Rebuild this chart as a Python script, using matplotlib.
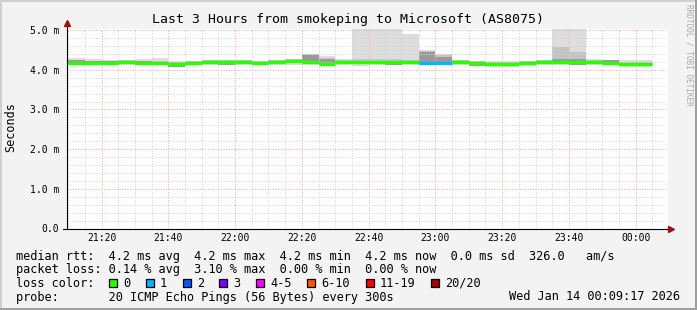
import matplotlib
matplotlib.use('Agg')
import matplotlib.pyplot as plt
import matplotlib.dates as mdates
from matplotlib.patches import Rectangle
from matplotlib.lines import Line2D
from matplotlib.ticker import FixedLocator, MultipleLocator, FixedFormatter
from datetime import datetime, timedelta

# ---------------- data ----------------
step_start = ['21:10', '21:15', '21:20', '21:25', '21:30', '21:35', '21:40', '21:45',
              '21:50', '21:55', '22:00', '22:05', '22:10', '22:15', '22:20', '22:25',
              '22:30', '22:35', '22:40', '22:45', '22:50', '22:55', '23:00', '23:05',
              '23:10', '23:15', '23:20', '23:25', '23:30', '23:35', '23:40', '23:45',
              '23:50', '23:55', '00:00']
step_end = '00:05'

median_ms = [4.18, 4.18, 4.18, 4.20, 4.18, 4.17, 4.15, 4.17, 4.20, 4.19, 4.20, 4.17,
             4.20, 4.21, 4.20, 4.15, 4.20, 4.19, 4.19, 4.19, 4.19, 4.18, 4.18, 4.19,
             4.17, 4.15, 4.15, 4.17, 4.19, 4.19, 4.19, 4.19, 4.17, 4.15, 4.15]
min_ms = [4.11, 4.12, 4.12, 4.13, 4.11, 4.12, 4.10, 4.11, 4.13, 4.12, 4.13, 4.11,
          4.13, 4.13, 4.13, 4.10, 4.13, 4.10, 4.11, 4.11, 4.12, 4.12, 4.12, 4.12,
          4.10, 4.06, 4.06, 4.10, 4.12, 4.11, 4.11, 4.12, 4.11, 4.08, 4.08]
max_ms = [4.29, 4.27, 4.24, 4.24, 4.27, 4.29, 4.22, 4.23, 4.24, 4.23, 4.23, 4.23,
          4.23, 4.24, 4.40, 4.35, 4.27, 5.60, 5.60, 5.60, 4.90, 4.50, 4.40, 4.24,
          4.22, 4.23, 4.22, 4.23, 4.24, 5.60, 5.60, 4.26, 4.24, 4.24, 4.24]
mid_lo_ms = [4.13, 4.13, 4.13, 4.15, 4.13, 4.12, 4.10, 4.12, 4.15, 4.14, 4.15, 4.12,
             4.15, 4.16, 4.15, 4.10, 4.15, 4.14, 4.14, 4.14, 4.14, 4.13, 4.13, 4.14,
             4.12, 4.10, 4.10, 4.12, 4.14, 4.14, 4.14, 4.14, 4.12, 4.10, 4.10]
mid_hi_ms = [4.23, 4.23, 4.23, 4.25, 4.23, 4.22, 4.20, 4.22, 4.25, 4.24, 4.25, 4.22,
             4.25, 4.26, 4.39, 4.29, 4.25, 4.27, 4.26, 4.26, 4.25, 4.48, 4.38, 4.24,
             4.22, 4.20, 4.20, 4.22, 4.24, 4.58, 4.44, 4.24, 4.22, 4.20, 4.20]
inner_lo_ms = [4.15, 4.15, 4.15, 4.17, 4.11, 4.14, 4.08, 4.14, 4.17, 4.12, 4.17, 4.14,
               4.17, 4.18, 4.17, 4.12, 4.17, 4.16, 4.16, 4.12, 4.16, 4.15, 4.15, 4.16,
               4.10, 4.12, 4.12, 4.14, 4.16, 4.16, 4.12, 4.16, 4.14, 4.12, 4.12]
inner_hi_ms = [4.24, 4.21, 4.21, 4.23, 4.21, 4.20, 4.18, 4.20, 4.23, 4.22, 4.23, 4.20,
               4.23, 4.24, 4.37, 4.26, 4.23, 4.22, 4.22, 4.22, 4.22, 4.44, 4.33, 4.22,
               4.20, 4.18, 4.18, 4.20, 4.22, 4.26, 4.27, 4.22, 4.24, 4.18, 4.18]
loss_pings = [0, 0, 0, 0, 0, 0, 0, 0, 0, 0, 0, 0, 0, 0, 0, 0, 0, 0, 0, 0, 0,
              1, 1, 0, 0, 0, 0, 0, 0, 0, 0, 0, 0, 0, 0]

loss_labels = ['0', '1', '2', '3', '4-5', '6-10', '11-19', '20/20']
loss_upper = [0, 1, 2, 3, 5, 10, 19, 20]
loss_colors = ['#26ff00', '#00b8ff', '#0059ff', '#7e00ff', '#ff00ff',
               '#ff5500', '#ff0000', '#a10000']

y_ticks = [0, 1, 2, 3, 4, 5]
y_tick_labels = ['0.0', '1.0 m', '2.0 m', '3.0 m', '4.0 m', '5.0 m']

title = 'Last 3 Hours from smokeping to Microsoft (AS8075)'
row_rtt = 'median rtt:  4.2 ms avg  4.2 ms max  4.2 ms min  4.2 ms now  0.0 ms sd  326.0   am/s'
row_loss = 'packet loss: 0.14 % avg  3.10 % max  0.00 % min  0.00 % now'
row_color = 'loss color:'
row_probe = 'probe:       20 ICMP Echo Pings (56 Bytes) every 300s'
stamp = 'Wed Jan 14 00:09:17 2026'

# ---------------- layout ----------------
W, H, DPI = 697, 310, 100
MONO = 'DejaVu Sans Mono'
plt.rcParams['font.family'] = [MONO, 'DejaVu Sans']


def fx(px):
    return px / W


def fy(py):
    return 1 - py / H


def to_dt(s):
    h, m = map(int, s.split(':'))
    day = 13 if h >= 12 else 14
    return datetime(2026, 1, day, h, m)


view_start = datetime(2026, 1, 13, 21, 9, 40)
view_end = view_start + timedelta(hours=3)

edges_dt = [to_dt(t) for t in step_start] + [to_dt(step_end)]
edges_dt[0] = min(edges_dt[0], view_start)
edges = mdates.date2num(edges_dt)

fig = plt.figure(figsize=(W / DPI, H / DPI), dpi=DPI, facecolor='#f3f3f3')

# frame shading
fig.add_artist(Rectangle((0, fy(2)), 1, 2 / H, transform=fig.transFigure,
                         facecolor='#cfcfcf', lw=0))
fig.add_artist(Rectangle((0, 0), 2 / W, 1, transform=fig.transFigure,
                         facecolor='#cfcfcf', lw=0))
fig.add_artist(Rectangle((0, 0), 1, 2 / H, transform=fig.transFigure,
                         facecolor='#9e9e9e', lw=0))
fig.add_artist(Rectangle((1 - 2 / W, 0), 2 / W, 1, transform=fig.transFigure,
                         facecolor='#9e9e9e', lw=0))

ax_l, ax_r, ax_t, ax_b = 67, 668, 28.5, 228.5
ax = fig.add_axes([fx(ax_l), fy(ax_b), fx(ax_r - ax_l), (ax_b - ax_t) / H])
ax.set_facecolor('white')

# smoke
ax.stairs(max_ms, edges, baseline=min_ms, fill=True, color='#dddddd', lw=0, zorder=1)
ax.stairs(mid_hi_ms, edges, baseline=mid_lo_ms, fill=True, color='#c4c4c4', lw=0, zorder=1.1)
ax.stairs(inner_hi_ms, edges, baseline=inner_lo_ms, fill=True, color='#9a9a9a', lw=0, zorder=1.2)


def loss_color(n):
    for up, c in zip(loss_upper, loss_colors):
        if n <= up:
            return c
    return loss_colors[-1]


seg_colors = [loss_color(n) for n in loss_pings]
ax.hlines(median_ms, edges[:-1], edges[1:], colors=seg_colors, lw=2.4,
          capstyle='butt', zorder=3)

ax.set_xlim(mdates.date2num(view_start), mdates.date2num(view_end))
ax.set_ylim(0, 5.04)

ax.xaxis_date()
ax.xaxis.set_major_locator(mdates.MinuteLocator(byminute=[0, 20, 40]))
ax.xaxis.set_minor_locator(mdates.MinuteLocator(byminute=range(0, 60, 5)))
ax.xaxis.set_major_formatter(mdates.DateFormatter('%H:%M'))
ax.yaxis.set_major_locator(FixedLocator(y_ticks))
ax.yaxis.set_major_formatter(FixedFormatter(y_tick_labels))
ax.yaxis.set_minor_locator(MultipleLocator(0.2))

ax.set_axisbelow(False)
ax.grid(True, which='minor', color='#d2d2d2', lw=0.72, ls=(0, (1, 1.6)))
ax.grid(True, which='major', color='#f0a4a4', lw=0.72, ls=(0, (1, 1.6)))

ax.tick_params(which='both', length=0)
ax.tick_params(axis='y', pad=5.5, labelsize=7)
ax.tick_params(axis='x', pad=3.5, labelsize=7)
for s in ax.spines.values():
    s.set_visible(False)

# axis lines with arrows
fig.add_artist(Line2D([fx(ax_l), fx(ax_l)], [fy(ax_b + 0.5), fy(21)], color='black',
                      lw=0.8, transform=fig.transFigure))
fig.add_artist(Line2D([fx(62.5), fx(669)], [fy(ax_b), fy(ax_b)], color='black',
                      lw=0.8, transform=fig.transFigure))
fig.add_artist(Line2D([fx(ax_l)], [fy(23)], marker='^', markersize=5, color='#9b1111',
                      lw=0, transform=fig.transFigure))
fig.add_artist(Line2D([fx(670.5)], [fy(ax_b)], marker='>', markersize=5, color='#9b1111',
                      lw=0, transform=fig.transFigure))

# texts
fig.text(0.5, fy(19), title, ha='center', va='center', fontsize=9.5, family=MONO)
fig.text(fx(11), fy(127), 'Seconds', rotation=90, ha='center', va='center',
         fontsize=8.5, family=MONO)
fig.text(fx(688.5), fy(4), 'RRDTOOL / TOBI OETIKER', rotation=270, ha='center',
         va='top', fontsize=5.6, color='#a8a8a8', family=MONO)

rows_y = [255, 268.5, 282, 295.5]
fs = 8.55
fig.text(fx(16), fy(rows_y[0]), row_rtt, ha='left', va='center_baseline', fontsize=fs)
fig.text(fx(16), fy(rows_y[1]), row_loss, ha='left', va='center_baseline', fontsize=fs)
fig.text(fx(16), fy(rows_y[2]), row_color, ha='left', va='center_baseline', fontsize=fs)
fig.text(fx(16), fy(rows_y[3]), row_probe, ha='left', va='center_baseline', fontsize=fs)
fig.text(fx(680), fy(rows_y[3]), stamp, ha='right', va='center_baseline', fontsize=fs)

box_x = [109, 145.7, 182.7, 219.3, 256, 307.3, 365.7, 430.7]
for bx, lab, col in zip(box_x, loss_labels, loss_colors):
    fig.add_artist(Rectangle((fx(bx), fy(rows_y[2] + 4.5)), 8 / W, 8 / H,
                             transform=fig.transFigure, facecolor=col,
                             edgecolor='black', lw=0.9))
    fig.text(fx(bx + 14), fy(rows_y[2]), lab, ha='left', va='center_baseline', fontsize=fs)

fig.savefig('out.png', dpi=DPI, facecolor=fig.get_facecolor())
